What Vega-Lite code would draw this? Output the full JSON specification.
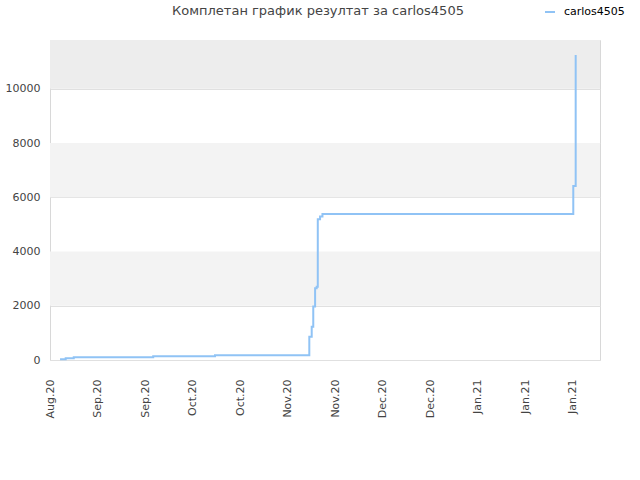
{
  "$schema": "https://vega.github.io/schema/vega-lite/v6.json",
  "description": "Комплетан график резултат за carlos4505",
  "autosize": "none",
  "width": 550,
  "height": 320,
  "padding": {"left": 50, "top": 40, "right": 40, "bottom": 120},
  "background": "#ffffff",
  "title": {
    "text": "Комплетан график резултат за carlos4505",
    "frame": "group",
    "fontSize": 13,
    "fontWeight": "normal",
    "font": "DejaVu Sans",
    "color": "#444444",
    "offset": -12,
    "dx": -7
  },
  "datasets": {
    "bands": [
      {"lo": 2000, "hi": 4000, "shade": "a"},
      {"lo": 6000, "hi": 8000, "shade": "a"},
      {"lo": 10000, "hi": 11800, "shade": "b"}
    ],
    "scores": [
      {"date": "2020-09-01T23:00:00", "score": 25, "player": "carlos4505"},
      {"date": "2020-09-03T15:00:00", "score": 63, "player": "carlos4505"},
      {"date": "2020-09-06T00:00:00", "score": 100, "player": "carlos4505"},
      {"date": "2020-09-13T06:00:00", "score": 100, "player": "carlos4505"},
      {"date": "2020-09-24T00:00:00", "score": 100, "player": "carlos4505"},
      {"date": "2020-09-29T10:00:00", "score": 137, "player": "carlos4505"},
      {"date": "2020-10-17T15:00:00", "score": 173, "player": "carlos4505"},
      {"date": "2020-11-05T00:00:00", "score": 173, "player": "carlos4505"},
      {"date": "2020-11-09T00:00:00", "score": 173, "player": "carlos4505"},
      {"date": "2020-11-10T00:00:00", "score": 173, "player": "carlos4505"},
      {"date": "2020-11-14T10:00:00", "score": 860, "player": "carlos4505"},
      {"date": "2020-11-15T03:00:00", "score": 1230, "player": "carlos4505"},
      {"date": "2020-11-15T14:00:00", "score": 1970, "player": "carlos4505"},
      {"date": "2020-11-16T03:00:00", "score": 2650, "player": "carlos4505"},
      {"date": "2020-11-16T14:00:00", "score": 2700, "player": "carlos4505"},
      {"date": "2020-11-16T22:00:00", "score": 5190, "player": "carlos4505"},
      {"date": "2020-11-17T14:00:00", "score": 5290, "player": "carlos4505"},
      {"date": "2020-11-18T07:00:00", "score": 5380, "player": "carlos4505"},
      {"date": "2021-01-31T05:00:00", "score": 6420, "player": "carlos4505"},
      {"date": "2021-01-31T22:00:00", "score": 11250, "player": "carlos4505"}
    ]
  },
  "layer": [
    {
      "data": {"name": "bands"},
      "mark": {"type": "rect"},
      "encoding": {
        "y": {"field": "lo", "type": "quantitative"},
        "y2": {"field": "hi"},
        "color": {
          "field": "shade",
          "type": "nominal",
          "scale": {"domain": ["a", "b"], "range": ["#f3f3f3", "#ededed"]},
          "legend": null
        }
      }
    },
    {
      "data": {"name": "scores"},
      "mark": {"type": "line", "interpolate": "step-after", "strokeWidth": 2, "color": "#90c3f5"},
      "encoding": {
        "x": {
          "field": "date",
          "type": "temporal",
          "title": null,
          "scale": {"domain": ["2020-08-30T00:00:00", "2021-02-08T02:00:00"], "nice": false},
          "axis": {
            "values": [
              "2020-08-30T00:00:00", "2020-09-13T00:00:00", "2020-09-27T00:00:00",
              "2020-10-11T00:00:00", "2020-10-25T00:00:00", "2020-11-08T00:00:00",
              "2020-11-22T00:00:00", "2020-12-06T00:00:00", "2020-12-20T00:00:00",
              "2021-01-03T00:00:00", "2021-01-17T00:00:00", "2021-01-31T00:00:00"
            ],
            "format": "%b.%y",
            "labelAngle": -90,
            "labelPadding": 19,
            "ticks": false,
            "grid": false,
            "domain": false,
            "labelColor": "#444444",
            "labelFontSize": 11,
            "labelFont": "DejaVu Sans",
            "labelOverlap": false
          }
        },
        "y": {
          "field": "score",
          "type": "quantitative",
          "title": null,
          "scale": {"domain": [0, 11800], "nice": false},
          "axis": {
            "values": [0, 2000, 4000, 6000, 8000, 10000],
            "ticks": false,
            "domain": false,
            "grid": true,
            "gridColor": "#e0e0e0",
            "labelPadding": 10,
            "labelColor": "#444444",
            "labelFontSize": 11,
            "labelFont": "DejaVu Sans",
            "format": "d"
          }
        },
        "stroke": {
          "field": "player",
          "type": "nominal",
          "scale": {"range": ["#90c3f5"]},
          "legend": {
            "title": null,
            "orient": "none",
            "legendX": 494,
            "legendY": -34,
            "symbolType": "stroke",
            "symbolSize": 100,
            "symbolStrokeWidth": 2,
            "labelFontSize": 11,
            "labelFont": "DejaVu Sans",
            "labelColor": "#000000",
            "labelOffset": 8
          }
        }
      }
    }
  ],
  "config": {
    "view": {"stroke": "#d8d8d8", "strokeWidth": 1}
  }
}
